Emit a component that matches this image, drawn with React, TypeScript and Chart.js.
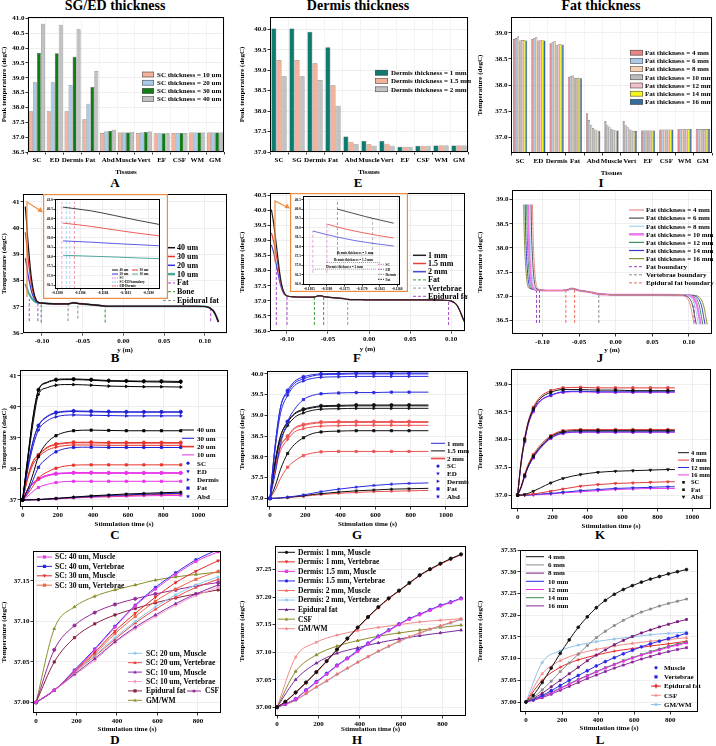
import React, { useEffect, useRef } from "react";
import { Chart, registerables } from "chart.js";

Chart.register(...registerables);

const SERIF = "'Liberation Serif', 'Times New Roman', serif";

/* ================= DATA ================= */
// ---- A: SG/ED thickness (peak temperature bars)
const tissuesA = ["SC", "ED", "Dermis", "Fat", "Abd", "Muscle", "Vert", "EF", "CSF", "WM", "GM"];
const namesA = ["SC thickness = 10 um", "SC thickness = 20 um", "SC thickness = 30 um", "SC thickness = 40 um"];
const peakSC10 = [37.87, 37.87, 37.87, 37.6, 37.14, 37.16, 37.14, 37.13, 37.14, 37.16, 37.16];
const peakSC20 = [38.85, 38.85, 38.76, 38.13, 37.19, 37.16, 37.16, 37.13, 37.14, 37.16, 37.16];
const peakSC30 = [39.84, 39.83, 39.71, 38.69, 37.21, 37.16, 37.17, 37.13, 37.14, 37.16, 37.16];
const peakSC40 = [40.82, 40.79, 40.64, 39.23, 37.25, 37.18, 37.19, 37.13, 37.14, 37.16, 37.16];
const yTicksA = [36.5, 37, 37.5, 38, 38.5, 39, 39.5, 40, 40.5, 41];

// ---- E: Dermis thickness
const tissuesE = ["SC", "SG", "Dermis", "Fat", "Abd", "Muscle", "Vert", "EF", "CSF", "WM", "GM"];
const namesE = ["Dermis thickness = 1 mm", "Dermis thickness = 1.5 mm", "Dermis thickness = 2 mm"];
const peakD1 = [40.02, 40.02, 39.94, 39.56, 37.38, 37.27, 37.27, 37.13, 37.15, 37.16, 37.16];
const peakD15 = [39.25, 39.25, 39.17, 38.63, 37.25, 37.19, 37.2, 37.13, 37.15, 37.16, 37.16];
const peakD2 = [38.85, 38.85, 38.76, 38.13, 37.19, 37.15, 37.15, 37.13, 37.15, 37.16, 37.16];
const yTicksE = [37, 37.5, 38, 38.5, 39, 39.5, 40];

// ---- I: Fat thickness
const tissuesI = ["SC", "ED", "Dermis", "Fat", "Abd", "Muscle", "Vert", "EF", "CSF", "WM", "GM"];
const namesI = ["Fat thickness = 4 mm", "Fat thickness = 6 mm", "Fat thickness = 8 mm", "Fat thickness = 10 mm", "Fat thickness = 12 mm", "Fat thickness = 14 mm", "Fat thickness = 16 mm"];
const peakF4 = [38.88, 38.88, 38.8, 38.16, 37.46, 37.31, 37.31, 37.13, 37.15, 37.16, 37.16];
const peakF6 = [38.9, 38.9, 38.82, 38.17, 37.33, 37.24, 37.23, 37.13, 37.15, 37.16, 37.16];
const peakF8 = [38.93, 38.92, 38.84, 38.18, 37.24, 37.2, 37.19, 37.13, 37.15, 37.16, 37.16];
const peakF10 = [38.85, 38.85, 38.77, 38.14, 37.18, 37.16, 37.15, 37.13, 37.15, 37.16, 37.16];
const peakF12 = [38.86, 38.86, 38.78, 38.14, 37.15, 37.14, 37.13, 37.13, 37.15, 37.16, 37.16];
const peakF14 = [38.86, 38.86, 38.78, 38.14, 37.13, 37.13, 37.12, 37.13, 37.15, 37.16, 37.16];
const peakF16 = [38.85, 38.85, 38.77, 38.13, 37.12, 37.13, 37.12, 37.13, 37.15, 37.16, 37.16];
const yTicksI = [37, 37.5, 38, 38.5, 39];

// ---- B: profile vs y, SC thickness
const posB = [-0.1205, -0.119, -0.117, -0.115, -0.113, -0.111, -0.109, -0.107, -0.105, -0.1, -0.09, -0.08, -0.07, -0.066, -0.062, -0.058, -0.054, -0.05, -0.04, -0.03, -0.024, -0.015, 0, 0.03, 0.06, 0.09, 0.1, 0.104, 0.107, 0.11, 0.112, 0.114, 0.1165];
const tailB = [37.12, 37.11, 37.11, 37.12, 37.15, 37.14, 37.12, 37.11, 37.08, 37.05, 37.03, 37.02, 37.02, 37.02, 37.02, 37.02, 37.01, 36.98, 36.93, 36.85, 36.75, 36.62, 36.42];
const headB40 = [40.82, 40.25, 39.4, 38.7, 38.1, 37.7, 37.42, 37.26, 37.18, 37.14];
const headB30 = [39.84, 39.42, 38.8, 38.3, 37.86, 37.56, 37.36, 37.23, 37.17, 37.14];
const headB20 = [38.85, 38.6, 38.2, 37.88, 37.6, 37.41, 37.28, 37.2, 37.16, 37.14];
const headB10 = [37.87, 37.75, 37.58, 37.45, 37.34, 37.26, 37.2, 37.17, 37.15, 37.14];
const fatLinesB = [[-0.1156, 36.45, 37.3], [-0.105, 36.45, 37.17], [0.107, 36.45, 36.95]];
const boneLinesB = [[-0.101, 36.4, 37.14], [-0.0225, 36.4, 37.04]];
const epiLinesB = [[-0.068, 36.45, 37.11], [-0.056, 36.55, 37.14]];
// inset B
const posIB = [-0.11875, -0.1185, -0.1183, -0.1181, -0.1179];
const insB40 = [40.62, 40.42, 40.18, 39.93, 39.7];
const insB30 = [39.78, 39.6, 39.42, 39.25, 39.1];
const insB20 = [38.84, 38.77, 38.7, 38.64, 38.58];
const insB10 = [38.08, 38.03, 37.99, 37.94, 37.9];

// ---- F: profile vs y, Dermis thickness
const posF = [-0.119, -0.117, -0.115, -0.113, -0.111, -0.109, -0.107, -0.105, -0.103, -0.1, -0.09, -0.08, -0.07, -0.066, -0.062, -0.058, -0.055, -0.05, -0.04, -0.03, -0.026, -0.015, 0, 0.03, 0.06, 0.08, 0.09, 0.096, 0.1, 0.104, 0.108, 0.111, 0.114, 0.1165];
const tailF = [37.13, 37.12, 37.12, 37.13, 37.16, 37.16, 37.14, 37.12, 37.1, 37.07, 37.05, 37.04, 37.03, 37.03, 37.03, 37.03, 37.02, 37.01, 36.99, 36.94, 36.82, 36.65, 36.45, 36.3];
const headF1 = [40.02, 39.7, 39.3, 38.85, 38.4, 37.95, 37.6, 37.38, 37.25, 37.16];
const headF15 = [39.25, 39.05, 38.8, 38.5, 38.2, 37.85, 37.55, 37.35, 37.23, 37.16];
const headF2 = [38.85, 38.68, 38.45, 38.2, 37.92, 37.65, 37.45, 37.3, 37.21, 37.16];
const fatLinesF = [[-0.0666, 36.2, 37.13], [-0.0553, 36.2, 37.14]];
const vertLinesF = [[-0.026, 36.2, 37.05]];
const epiLinesF = [[-0.113, 36.2, 38.2], [-0.1, 36.2, 37.16], [0.097, 36.2, 37.0]];
// inset F
const insF1x = [-0.1177, -0.1173, -0.1169, -0.1165, -0.1161];
const insF1 = [40.0, 39.8, 39.6, 39.42, 39.25];
const insF15x = [-0.118, -0.1175, -0.117, -0.1165, -0.1161];
const insF15 = [39.2, 38.95, 38.75, 38.58, 38.46];
const insF2x = [-0.1184, -0.1178, -0.1172, -0.1166, -0.1161];
const insF2 = [38.83, 38.55, 38.32, 38.15, 38.03];

// ---- J: profile vs y, Fat thickness
const leftYJ = [38.9, 38.45, 37.95, 37.55, 37.3, 37.17];
const midXJ = [-0.104, -0.095, -0.085, -0.072, -0.064, -0.06, -0.056, -0.05, -0.04, -0.03, -0.024, -0.015, 0, 0.06];
const midYJ = [37.13, 37.12, 37.12, 37.12, 37.14, 37.16, 37.15, 37.12, 37.1, 37.07, 37.05, 37.04, 37.03, 37.03];
const rightYJ = [37.02, 36.98, 36.9, 36.75, 36.58, 36.42];
const leftXJ4 = [-0.1135, -0.113, -0.112, -0.1105, -0.109, -0.1065];
const leftXJ6 = [-0.1155, -0.115, -0.114, -0.1125, -0.111, -0.1085];
const leftXJ8 = [-0.1175, -0.117, -0.116, -0.1145, -0.113, -0.1105];
const leftXJ10 = [-0.1195, -0.119, -0.118, -0.1165, -0.115, -0.1125];
const leftXJ12 = [-0.1215, -0.121, -0.12, -0.1185, -0.117, -0.1145];
const leftXJ14 = [-0.1235, -0.123, -0.122, -0.1205, -0.119, -0.1165];
const leftXJ16 = [-0.1255, -0.125, -0.124, -0.1225, -0.121, -0.1185];
const rightXJ4 = [0.09, 0.096, 0.1, 0.103, 0.105, 0.107];
const rightXJ6 = [0.093, 0.099, 0.103, 0.106, 0.108, 0.11];
const rightXJ8 = [0.096, 0.102, 0.106, 0.109, 0.111, 0.113];
const rightXJ10 = [0.099, 0.105, 0.109, 0.112, 0.114, 0.116];
const rightXJ12 = [0.102, 0.108, 0.112, 0.115, 0.117, 0.119];
const rightXJ14 = [0.105, 0.111, 0.115, 0.118, 0.12, 0.122];
const rightXJ16 = [0.108, 0.114, 0.118, 0.121, 0.123, 0.125];
const fatLinesJ = [[-0.108, 36.45, 37.13], [-0.104, 36.45, 37.13], [0.107, 36.45, 36.98]];
const vertLinesJ = [[-0.023, 36.45, 37.05]];
const epiLinesJ = [[-0.068, 36.45, 37.13], [-0.056, 36.45, 37.15]];

// ---- C: transient, SC thickness
const timeC = [0, 30, 60, 90, 140, 190, 240, 290, 390, 490, 590, 690, 790, 900];
const markC = [0, 90, 190, 290, 390, 490, 590, 690, 790, 900];
const c40SC = [37, 38.4, 39.7, 40.55, 40.8, 40.88, 40.9, 40.9, 40.88, 40.85, 40.84, 40.83, 40.83, 40.82];
const c40ED = [37, 38.4, 39.7, 40.53, 40.78, 40.86, 40.88, 40.88, 40.86, 40.83, 40.82, 40.81, 40.8, 40.79];
const c40De = [37, 38.3, 39.5, 40.4, 40.62, 40.7, 40.72, 40.72, 40.7, 40.67, 40.66, 40.65, 40.65, 40.64];
const c40Fa = [37, 37.35, 37.85, 38.4, 38.85, 39.07, 39.18, 39.23, 39.25, 39.24, 39.23, 39.23, 39.23, 39.23];
const c40Ab = [37, 37.0, 37.005, 37.01, 37.03, 37.05, 37.07, 37.09, 37.13, 37.16, 37.19, 37.21, 37.23, 37.25];
const c30SC = [37, 38.1, 38.9, 39.4, 39.7, 39.82, 39.86, 39.87, 39.86, 39.85, 39.84, 39.84, 39.84, 39.84];
const c30ED = [37, 38.1, 38.9, 39.38, 39.68, 39.8, 39.84, 39.85, 39.84, 39.83, 39.83, 39.83, 39.83, 39.83];
const c30De = [37, 38.0, 38.75, 39.25, 39.55, 39.68, 39.73, 39.74, 39.73, 39.72, 39.71, 39.71, 39.71, 39.71];
const c30Fa = [37, 37.25, 37.65, 38.05, 38.35, 38.55, 38.65, 38.69, 38.7, 38.69, 38.69, 38.69, 38.69, 38.69];
const c30Ab = [37, 37.0, 37.004, 37.01, 37.025, 37.04, 37.06, 37.08, 37.11, 37.14, 37.16, 37.18, 37.2, 37.21];
const c20SC = [37, 37.75, 38.25, 38.45, 38.7, 38.8, 38.84, 38.86, 38.86, 38.85, 38.85, 38.85, 38.85, 38.85];
const c20ED = [37, 37.75, 38.25, 38.44, 38.68, 38.78, 38.82, 38.84, 38.84, 38.83, 38.83, 38.83, 38.83, 38.83];
const c20De = [37, 37.7, 38.15, 38.38, 38.6, 38.7, 38.75, 38.77, 38.77, 38.76, 38.76, 38.76, 38.76, 38.76];
const c20Fa = [37, 37.2, 37.45, 37.7, 37.9, 38.02, 38.09, 38.12, 38.13, 38.13, 38.13, 38.13, 38.13, 38.13];
const c20Ab = [37, 37.0, 37.003, 37.008, 37.02, 37.035, 37.05, 37.07, 37.1, 37.12, 37.14, 37.16, 37.18, 37.19];
const c10SC = [37, 37.35, 37.55, 37.68, 37.8, 37.85, 37.87, 37.88, 37.88, 37.87, 37.87, 37.87, 37.87, 37.87];
const c10ED = [37, 37.35, 37.55, 37.67, 37.79, 37.84, 37.86, 37.87, 37.87, 37.87, 37.87, 37.87, 37.87, 37.87];
const c10De = [37, 37.33, 37.52, 37.65, 37.77, 37.83, 37.85, 37.86, 37.86, 37.86, 37.86, 37.86, 37.86, 37.86];
const c10Fa = [37, 37.12, 37.28, 37.4, 37.5, 37.56, 37.59, 37.6, 37.6, 37.6, 37.6, 37.6, 37.6, 37.6];
const c10Ab = [37, 37.0, 37.002, 37.005, 37.015, 37.03, 37.045, 37.06, 37.085, 37.1, 37.115, 37.13, 37.14, 37.14];

// ---- G: transient, Dermis thickness
const timeG = [0, 30, 60, 100, 140, 190, 240, 290, 390, 490, 590, 690, 790, 900];
const markG = [0, 100, 190, 290, 390, 490, 590, 690, 790];
const g1SC = [37, 38.3, 39.2, 39.6, 39.82, 39.93, 39.98, 40.0, 40.01, 40.02, 40.02, 40.02, 40.02, 40.02];
const g1ED = [37, 38.3, 39.2, 39.55, 39.78, 39.88, 39.95, 39.98, 39.99, 40.0, 40.0, 40.0, 40.0, 40.0];
const g1De = [37, 38.2, 39.05, 39.48, 39.72, 39.83, 39.89, 39.92, 39.93, 39.94, 39.94, 39.94, 39.94, 39.94];
const g1Fa = [37, 37.6, 38.3, 38.85, 39.15, 39.38, 39.48, 39.52, 39.54, 39.55, 39.55, 39.56, 39.56, 39.56];
const g1Ab = [37, 37.0, 37.01, 37.03, 37.05, 37.08, 37.12, 37.16, 37.22, 37.27, 37.31, 37.34, 37.36, 37.37];
const g15SC = [37, 37.9, 38.5, 38.85, 39.05, 39.15, 39.2, 39.23, 39.24, 39.25, 39.25, 39.25, 39.25, 39.25];
const g15ED = [37, 37.9, 38.5, 38.83, 39.03, 39.13, 39.18, 39.21, 39.22, 39.23, 39.23, 39.23, 39.23, 39.23];
const g15De = [37, 37.85, 38.4, 38.75, 38.95, 39.06, 39.12, 39.15, 39.16, 39.17, 39.17, 39.17, 39.17, 39.17];
const g15Fa = [37, 37.3, 37.7, 38.08, 38.3, 38.46, 38.56, 38.6, 38.62, 38.63, 38.63, 38.63, 38.63, 38.63];
const g15Ab = [37, 37.0, 37.01, 37.02, 37.04, 37.06, 37.09, 37.11, 37.15, 37.18, 37.2, 37.22, 37.23, 37.24];
const g2SC = [37, 37.75, 38.25, 38.5, 38.7, 38.78, 38.82, 38.84, 38.85, 38.85, 38.85, 38.85, 38.85, 38.85];
const g2ED = [37, 37.75, 38.25, 38.48, 38.68, 38.76, 38.8, 38.82, 38.83, 38.83, 38.83, 38.83, 38.83, 38.83];
const g2De = [37, 37.7, 38.15, 38.42, 38.6, 38.68, 38.72, 38.74, 38.75, 38.76, 38.76, 38.76, 38.76, 38.76];
const g2Fa = [37, 37.2, 37.48, 37.75, 37.9, 38.03, 38.09, 38.12, 38.13, 38.13, 38.13, 38.13, 38.13, 38.13];
const g2Ab = [37, 37.0, 37.005, 37.015, 37.03, 37.05, 37.07, 37.09, 37.12, 37.14, 37.16, 37.17, 37.18, 37.19];

// ---- K: transient, Fat thickness
const timeK = [0, 20, 40, 60, 90, 130, 190, 260, 360, 460, 560, 660, 760, 860, 900];
const markK = [0, 40, 90, 190, 260, 360, 460, 560, 660, 760, 860];
const k4SC = [37, 37.6, 38.0, 38.3, 38.55, 38.74, 38.85, 38.9, 38.9, 38.89, 38.89, 38.88, 38.88, 38.88, 38.88];
const k8SC = [37, 37.62, 38.02, 38.32, 38.58, 38.77, 38.88, 38.93, 38.94, 38.93, 38.93, 38.93, 38.93, 38.93, 38.93];
const k12SC = [37, 37.58, 37.97, 38.27, 38.52, 38.7, 38.8, 38.86, 38.87, 38.86, 38.86, 38.86, 38.86, 38.86, 38.86];
const k16SC = [37, 37.57, 37.96, 38.26, 38.5, 38.69, 38.79, 38.85, 38.86, 38.85, 38.85, 38.85, 38.85, 38.85, 38.85];
const k4Fa = [37, 37.15, 37.35, 37.52, 37.7, 37.87, 38.05, 38.14, 38.16, 38.16, 38.16, 38.16, 38.16, 38.16, 38.16];
const k8Fa = [37, 37.16, 37.37, 37.55, 37.73, 37.9, 38.07, 38.16, 38.18, 38.18, 38.18, 38.18, 38.18, 38.18, 38.18];
const k12Fa = [37, 37.14, 37.34, 37.5, 37.68, 37.85, 38.03, 38.12, 38.14, 38.14, 38.14, 38.14, 38.14, 38.14, 38.14];
const k16Fa = [37, 37.13, 37.33, 37.5, 37.67, 37.84, 38.02, 38.11, 38.13, 38.13, 38.13, 38.13, 38.13, 38.13, 38.13];
const k4Ab = [37, 37.0, 37.01, 37.03, 37.07, 37.13, 37.22, 37.3, 37.37, 37.41, 37.43, 37.44, 37.45, 37.46, 37.46];
const k8Ab = [37, 37.0, 37.0, 37.01, 37.02, 37.04, 37.07, 37.11, 37.16, 37.19, 37.21, 37.22, 37.23, 37.24, 37.24];
const k12Ab = [37, 37.0, 37.0, 37.0, 37.01, 37.02, 37.03, 37.05, 37.08, 37.1, 37.12, 37.13, 37.14, 37.15, 37.15];
const k16Ab = [37, 37.0, 37.0, 37.0, 37.005, 37.01, 37.02, 37.04, 37.06, 37.08, 37.1, 37.11, 37.12, 37.12, 37.12];

// ---- D: deep tissues, SC thickness
const timeD = [0, 90, 190, 290, 390, 490, 590, 690, 790, 900];
const d40M = [37, 37.015, 37.039, 37.065, 37.093, 37.119, 37.14, 37.158, 37.174, 37.186];
const d40V = [37, 37.015, 37.04, 37.066, 37.094, 37.12, 37.142, 37.16, 37.176, 37.189];
const d30M = [37, 37.015, 37.039, 37.062, 37.088, 37.11, 37.13, 37.148, 37.162, 37.175];
const d30V = [37, 37.015, 37.038, 37.06, 37.085, 37.106, 37.125, 37.14, 37.152, 37.162];
const d20M = [37, 37.015, 37.037, 37.058, 37.08, 37.1, 37.118, 37.133, 37.145, 37.155];
const d20V = [37, 37.015, 37.037, 37.057, 37.078, 37.098, 37.115, 37.13, 37.142, 37.152];
const d10M = [37, 37.015, 37.035, 37.054, 37.075, 37.093, 37.108, 37.122, 37.134, 37.145];
const d10V = [37, 37.015, 37.034, 37.052, 37.074, 37.091, 37.106, 37.12, 37.132, 37.142];
const dEpi = [37, 37.05, 37.08, 37.097, 37.108, 37.116, 37.123, 37.129, 37.134, 37.139];
const dCSF = [37, 37.065, 37.095, 37.111, 37.121, 37.128, 37.134, 37.139, 37.144, 37.148];
const dGMWM = [37, 37.091, 37.118, 37.131, 37.139, 37.145, 37.151, 37.155, 37.158, 37.161];

// ---- H: deep tissues, Dermis thickness
const timeH = [0, 40, 90, 140, 190, 240, 290, 340, 390, 440, 490, 540, 590, 640, 690, 740, 790, 840, 890];
const timeH2 = [0, 90, 190, 290, 390, 490, 590, 690, 790, 890];
const h1M = [37, 37.01, 37.027, 37.045, 37.064, 37.084, 37.105, 37.125, 37.145, 37.164, 37.182, 37.198, 37.212, 37.226, 37.24, 37.251, 37.261, 37.27, 37.278];
const h1V = [37, 37.01, 37.026, 37.044, 37.063, 37.083, 37.104, 37.124, 37.144, 37.163, 37.181, 37.197, 37.211, 37.225, 37.239, 37.25, 37.26, 37.269, 37.277];
const h15M = [37, 37.006, 37.015, 37.03, 37.045, 37.06, 37.075, 37.088, 37.101, 37.115, 37.128, 37.139, 37.15, 37.16, 37.168, 37.176, 37.184, 37.19, 37.197];
const h15V = [37, 37.006, 37.015, 37.031, 37.046, 37.061, 37.076, 37.089, 37.103, 37.116, 37.129, 37.14, 37.151, 37.161, 37.169, 37.177, 37.185, 37.191, 37.198];
const h2M = [37, 37.005, 37.013, 37.025, 37.037, 37.048, 37.06, 37.071, 37.082, 37.092, 37.102, 37.111, 37.12, 37.128, 37.135, 37.142, 37.148, 37.154, 37.16];
const h2V = [37, 37.005, 37.012, 37.024, 37.036, 37.047, 37.059, 37.07, 37.081, 37.091, 37.101, 37.11, 37.119, 37.127, 37.134, 37.141, 37.147, 37.153, 37.159];
const hEpi = [37, 37.05, 37.08, 37.098, 37.108, 37.117, 37.124, 37.13, 37.135, 37.14];
const hCSF = [37, 37.065, 37.095, 37.111, 37.121, 37.129, 37.135, 37.14, 37.145, 37.149];
const hGMWM = [37, 37.091, 37.118, 37.131, 37.139, 37.145, 37.15, 37.155, 37.158, 37.161];

// ---- L: deep tissues, Fat thickness
const timeL = [0, 40, 90, 140, 190, 240, 290, 340, 390, 440, 490, 540, 590, 640, 690, 740, 790, 840, 890];
const timeL2 = [0, 90, 190, 290, 390, 490, 590, 690, 790, 890];
const l4 = [37, 37.015, 37.045, 37.078, 37.112, 37.143, 37.172, 37.196, 37.217, 37.234, 37.248, 37.259, 37.268, 37.276, 37.283, 37.289, 37.295, 37.3, 37.305];
const l6 = [37, 37.01, 37.028, 37.048, 37.07, 37.09, 37.11, 37.13, 37.148, 37.163, 37.176, 37.188, 37.198, 37.207, 37.214, 37.221, 37.227, 37.232, 37.237];
const l8 = [37, 37.008, 37.02, 37.035, 37.05, 37.065, 37.08, 37.095, 37.108, 37.12, 37.132, 37.142, 37.151, 37.159, 37.166, 37.173, 37.179, 37.185, 37.19];
const l10 = [37, 37.006, 37.015, 37.026, 37.038, 37.05, 37.061, 37.072, 37.083, 37.093, 37.102, 37.111, 37.119, 37.127, 37.134, 37.14, 37.146, 37.152, 37.158];
const l12 = [37, 37.005, 37.012, 37.021, 37.031, 37.041, 37.051, 37.06, 37.069, 37.078, 37.086, 37.094, 37.101, 37.108, 37.114, 37.12, 37.126, 37.131, 37.136];
const l14 = [37, 37.005, 37.013, 37.022, 37.032, 37.042, 37.052, 37.061, 37.07, 37.079, 37.087, 37.095, 37.102, 37.109, 37.116, 37.122, 37.128, 37.133, 37.138];
const l16 = [37, 37.004, 37.01, 37.018, 37.027, 37.036, 37.045, 37.054, 37.062, 37.07, 37.078, 37.085, 37.092, 37.099, 37.105, 37.111, 37.116, 37.121, 37.125];
const lEpi = [37, 37.05, 37.08, 37.097, 37.108, 37.117, 37.123, 37.129, 37.134, 37.14];
const lCSF = [37, 37.065, 37.095, 37.111, 37.121, 37.129, 37.135, 37.14, 37.144, 37.148];
const lGMWM = [37, 37.091, 37.118, 37.131, 37.139, 37.145, 37.15, 37.155, 37.158, 37.161];

const ticksTime = [0, 200, 400, 600, 800, 1000];
const ticksTime8 = [0, 200, 400, 600, 800];
const ticksPos = [-0.1, -0.05, 0, 0.05, 0.1];

/* ================= HELPERS ================= */
const MK: any = {
  circle: ["circle", 0], rect: ["rect", 0], tri: ["triangle", 0], triDown: ["triangle", 180],
  triRight: ["triangle", 90], diamond: ["rectRot", 0], star: ["star", 0], cross: ["cross", 0],
};

function drawMark(ctx: any, kind: string, x: number, y: number, r: number, color: string) {
  ctx.save();
  ctx.fillStyle = color;
  ctx.strokeStyle = color;
  ctx.lineWidth = 1;
  ctx.beginPath();
  if (kind === "circle") { ctx.arc(x, y, r, 0, Math.PI * 2); ctx.fill(); }
  else if (kind === "rect") { ctx.fillRect(x - r, y - r, 2 * r, 2 * r); }
  else if (kind === "diamond") { ctx.moveTo(x, y - r * 1.3); ctx.lineTo(x + r * 1.3, y); ctx.lineTo(x, y + r * 1.3); ctx.lineTo(x - r * 1.3, y); ctx.closePath(); ctx.fill(); }
  else if (kind === "tri") { ctx.moveTo(x, y - r * 1.2); ctx.lineTo(x + r * 1.1, y + r * 0.8); ctx.lineTo(x - r * 1.1, y + r * 0.8); ctx.closePath(); ctx.fill(); }
  else if (kind === "triDown") { ctx.moveTo(x, y + r * 1.2); ctx.lineTo(x + r * 1.1, y - r * 0.8); ctx.lineTo(x - r * 1.1, y - r * 0.8); ctx.closePath(); ctx.fill(); }
  else if (kind === "triRight") { ctx.moveTo(x + r * 1.2, y); ctx.lineTo(x - r * 0.8, y - r * 1.1); ctx.lineTo(x - r * 0.8, y + r * 1.1); ctx.closePath(); ctx.fill(); }
  else if (kind === "star") {
    for (let k = 0; k < 10; k++) {
      const a = -Math.PI / 2 + (k * Math.PI) / 5;
      const rr = k % 2 === 0 ? r * 1.4 : r * 0.6;
      const px = x + rr * Math.cos(a), py = y + rr * Math.sin(a);
      if (k === 0) ctx.moveTo(px, py); else ctx.lineTo(px, py);
    }
    ctx.closePath(); ctx.fill();
  } else if (kind === "cross") { ctx.lineWidth = 1.3; ctx.moveTo(x - r * 1.4, y); ctx.lineTo(x + r * 1.4, y); ctx.moveTo(x, y - r * 1.4); ctx.lineTo(x, y + r * 1.4); ctx.stroke(); }
  ctx.restore();
}

function legendPlugin(spec: any, off: any) {
  return {
    id: "customLegend",
    afterDraw(chart: any) {
      const ctx = chart.ctx;
      ctx.save();
      ctx.font = `bold ${spec.size}px ${SERIF}`;
      ctx.textBaseline = "middle";
      ctx.textAlign = "left";
      spec.items.forEach((it: any, i: number) => {
        const px = (it.x ?? spec.x) - off.left;
        const py = (it.y ?? spec.y + i * spec.lh) - off.top;
        const sw = it.sw ?? spec.sw;
        if (it.kind === "box") {
          const bh = spec.bh ?? 5;
          ctx.fillStyle = it.color;
          ctx.fillRect(px, py - bh / 2, sw, bh);
          ctx.strokeStyle = "#555";
          ctx.lineWidth = 0.6;
          ctx.strokeRect(px + 0.3, py - bh / 2 + 0.3, sw - 0.6, bh - 0.6);
        } else if (it.kind === "line") {
          ctx.save();
          ctx.strokeStyle = it.color;
          ctx.lineWidth = it.lw ?? 1;
          ctx.setLineDash(it.dash ?? []);
          ctx.beginPath();
          ctx.moveTo(px, py);
          ctx.lineTo(px + sw, py);
          ctx.stroke();
          ctx.restore();
          if (it.marker) drawMark(ctx, it.marker, px + sw / 2, py, it.r ?? 1.6, it.mcolor ?? it.color);
        } else if (it.kind === "marker") {
          drawMark(ctx, it.marker, px + sw / 2, py, it.r ?? 1.6, it.color);
        }
        ctx.fillStyle = "#000";
        ctx.fillText(it.text, px + sw + (spec.gap ?? 2), py + 0.5);
      });
      ctx.restore();
    },
  };
}

const framePlugin = {
  id: "frame",
  afterDatasetsDraw(chart: any) {
    const { left, top, right, bottom } = chart.chartArea;
    const ctx = chart.ctx;
    ctx.save();
    ctx.strokeStyle = "#000";
    ctx.lineWidth = 1;
    ctx.strokeRect(Math.round(left) + 0.5, Math.round(top) + 0.5, Math.round(right - left) - 1, Math.round(bottom - top) - 1);
    ctx.restore();
  },
};

function extraPlugin(fn: (ctx: any, chart: any) => void) {
  return { id: "extraDraw", afterDraw(chart: any) { const ctx = chart.ctx; ctx.save(); fn(ctx, chart); ctx.restore(); } };
}

const font = (s: number) => ({ family: SERIF, size: s, weight: "bold" as const });

function killPad(s: any) { s.paddingLeft = 0; s.paddingRight = 0; s.paddingTop = 0; s.paddingBottom = 0; }

function yLin(off: any, min: number, max: number, ticks: number[], dec: number, title: string, o: any = {}) {
  return {
    type: "linear", position: "left", min, max,
    afterBuildTicks: (s: any) => { s.ticks = ticks.map((v) => ({ value: v })); },
    afterFit: (s: any) => { s.width = off.yw; killPad(s); },
    grid: { color: o.gc ?? "#e3e3e3", lineWidth: 0.6, tickColor: "#000", tickLength: o.tl ?? 2.5, tickWidth: 0.8, drawOnChartArea: o.grid !== false },
    border: { display: false },
    ticks: { color: "#000", padding: o.pad ?? 1, autoSkip: false, font: font(o.fs ?? 7), callback: (v: any) => Number(v).toFixed(dec) },
    title: { display: !!title, text: title, color: "#000", padding: { top: 0, bottom: 0 }, font: font(o.tfs ?? 7) },
  };
}

function xLin(off: any, min: number, max: number, ticks: number[], dec: number, title: string, o: any = {}) {
  return {
    type: "linear", position: "bottom", min, max,
    afterBuildTicks: (s: any) => { s.ticks = ticks.map((v) => ({ value: v })); },
    afterFit: (s: any) => { s.height = off.xh; killPad(s); },
    grid: { color: o.gc ?? "#e3e3e3", lineWidth: 0.6, tickColor: "#000", tickLength: o.tl ?? 2.5, tickWidth: 0.8, drawOnChartArea: o.grid !== false },
    border: { display: false },
    ticks: { color: "#000", padding: o.pad ?? 1, autoSkip: false, maxRotation: 0, minRotation: 0, font: font(o.fs ?? 7), callback: (v: any) => Number(v).toFixed(dec) },
    title: { display: !!title, text: title, color: "#000", padding: { top: 0, bottom: 0 }, font: font(o.tfs ?? 7) },
  };
}

function xCat(off: any, title: string) {
  return {
    type: "category", position: "bottom", offset: true,
    afterFit: (s: any) => { s.height = off.xh; killPad(s); },
    grid: { offset: true, color: "#ececec", lineWidth: 0.6, tickColor: "#000", tickLength: 2.5, tickWidth: 0.8 },
    border: { display: false },
    ticks: { color: "#000", padding: 1, autoSkip: false, maxRotation: 0, minRotation: 0, font: font(7) },
    title: { display: true, text: title, color: "#000", padding: { top: 0, bottom: 0 }, font: font(7) },
  };
}

function baseOpts(off: any, scales: any) {
  return {
    responsive: false, maintainAspectRatio: false, animation: false, devicePixelRatio: 1, events: [],
    layout: { padding: { left: 0, right: off.rp, top: off.tp, bottom: 0 } },
    plugins: { legend: { display: false }, tooltip: { enabled: false }, title: { display: false } },
    scales,
  };
}

function pts(xs: number[], ys: number[]) { return xs.map((x, i) => ({ x, y: ys[i] })); }

function lineDS(xs: number[], ys: number[], color: string, o: any = {}) {
  const ms = new Set(o.marks ?? []);
  const m = MK[o.marker ?? "circle"];
  return {
    data: pts(xs, ys), borderColor: color, backgroundColor: color, borderWidth: o.lw ?? 1,
    pointRadius: (c: any) => (ms.has(c.raw?.x) ? o.r ?? 1.7 : 0),
    pointStyle: m[0], pointRotation: m[1], pointBorderWidth: 0.8,
    cubicInterpolationMode: "monotone", fill: false, borderDash: o.dash ?? [], order: o.order ?? 0,
  };
}

function vLines(list: number[][], color: string, lw = 1) {
  return list.map((l) => ({
    data: [{ x: l[0], y: l[1] }, { x: l[0], y: l[2] }], borderColor: color, borderWidth: lw,
    borderDash: [3, 2], pointRadius: 0, tension: 0, fill: false,
  }));
}

function Panel({ frame, yw, xh, tp = 6, rp = 3, make, bg }: any) {
  const ref = useRef<HTMLCanvasElement | null>(null);
  const [x1, y1, x2, y2] = frame;
  const left = x1 - yw;
  const top = y1 - tp;
  const W = x2 - x1 + yw + rp;
  const H = y2 - y1 + tp + xh;
  useEffect(() => {
    const off = { left, top, yw, xh, tp, rp };
    const chart = new Chart(ref.current as HTMLCanvasElement, make(off));
    return () => chart.destroy();
  }, []);
  return <canvas ref={ref} width={W} height={H} style={{ position: "absolute", left, top, width: W, height: H, background: bg }} />;
}

/* ================= PANEL BUILDERS ================= */
function makeBar(off: any, labels: string[], names: string[], series: number[][], colors: string[], min: number, max: number, ticks: number[], yTitle: string, leg: any, cat: number, bar: number) {
  return {
    type: "bar",
    data: {
      labels,
      datasets: series.map((d, i) => ({ label: names[i], data: d, backgroundColor: colors[i], borderColor: "#4a4a4a", borderWidth: 0.5, categoryPercentage: cat, barPercentage: bar })),
    },
    options: baseOpts(off, { x: xCat(off, "Tissues"), y: yLin(off, min, max, ticks, 1, yTitle) }),
    plugins: [framePlugin, legendPlugin({ ...leg, items: names.map((n, i) => ({ text: n, color: colors[i], kind: "box" })) }, off)],
  };
}

const colA = ["#f3b299", "#a8cbea", "#0f7d14", "#c2c2c2"];
const colE = ["#0f7a6e", "#f3b299", "#c2c2c2"];
const colI = ["#e98585", "#a9cbe9", "#f8cfb0", "#bdbdbd", "#f3bfca", "#f6f61a", "#356e9d"];

const makeA = (off: any) => makeBar(off, tissuesA, namesA, [peakSC10, peakSC20, peakSC30, peakSC40], colA, 36.5, 41.05, yTicksA, "Peak temperature (degC)", { x: 142, y: 74.5, lh: 8.2, size: 7, sw: 12, gap: 3, bh: 5.5 }, 0.9, 0.97);
const makeE = (off: any) => makeBar(off, tissuesE, namesE, [peakD1, peakD15, peakD2], colE, 37.0, 40.3, yTicksE, "Peak temperature (degC)", { x: 375, y: 72.7, lh: 8.3, size: 7, sw: 13, gap: 3, bh: 5.5 }, 0.85, 0.97);
const makeI = (off: any) => makeBar(off, tissuesI, namesI, [peakF4, peakF6, peakF8, peakF10, peakF12, peakF14, peakF16], colI, 36.7, 39.3, yTicksI, "Temperature (degC)", { x: 630, y: 52.7, lh: 8.2, size: 7, sw: 13, gap: 2, bh: 5.5 }, 0.78, 1.0);

// B
const cB = { b40: "#111111", b30: "#e8352d", b20: "#3333d6", b10: "#4ea89e", fat: "#b343cc", bone: "#2f8f2f", epi: "#8c8c8c", orange: "#f08a3c" };
function makeB(off: any) {
  const ds = [
    lineDS(posB, headB40.concat(tailB), cB.b40, { lw: 1.2 }),
    lineDS(posB, headB30.concat(tailB), cB.b30, { lw: 1.2 }),
    lineDS(posB, headB20.concat(tailB), cB.b20, { lw: 1.2 }),
    lineDS(posB, headB10.concat(tailB), cB.b10, { lw: 2 }),
    ...vLines(fatLinesB, cB.fat), ...vLines(boneLinesB, cB.bone), ...vLines(epiLinesB, cB.epi),
  ];
  return {
    type: "line", data: { datasets: ds },
    options: baseOpts(off, { x: xLin(off, -0.1233, 0.127, ticksPos, 2, "y (m)"), y: yLin(off, 36, 41.3, [36, 37, 38, 39, 40, 41], 0, "Temperature (degC)") }),
    plugins: [framePlugin, legendPlugin({ x: 163, y: 247.7, lh: 8.8, size: 8, sw: 12, gap: 2, items: [
      { text: "40 um", color: cB.b40, kind: "line", lw: 1.5 }, { text: "30 um", color: cB.b30, kind: "line", lw: 1.5 },
      { text: "20 um", color: cB.b20, kind: "line", lw: 1.5 }, { text: "10 um", color: cB.b10, kind: "line", lw: 2.5 },
      { text: "Fat", color: cB.fat, kind: "line", dash: [3, 2] }, { text: "Bone", color: cB.bone, kind: "line", dash: [3, 2] },
      { text: "Epidural fat", color: cB.epi, kind: "line", dash: [3, 2] },
    ] }, off), extraPlugin((ctx) => {
      ctx.strokeStyle = cB.orange; ctx.fillStyle = cB.orange; ctx.lineWidth = 1.2;
      ctx.beginPath(); ctx.moveTo(27 - off.left, 297 - off.top); ctx.lineTo(27 - off.left, 202 - off.top); ctx.lineTo(41 - off.left, 211 - off.top); ctx.stroke();
      ctx.beginPath(); ctx.moveTo(43 - off.left, 212.5 - off.top); ctx.lineTo(37.5 - off.left, 211.5 - off.top); ctx.lineTo(40.5 - off.left, 207 - off.top); ctx.closePath(); ctx.fill();
    })],
  };
}

function makeInsetB(off: any) {
  const ds = [
    lineDS(posIB, insB40, cB.b40, { lw: 0.8 }), lineDS(posIB, insB30, cB.b30, { lw: 0.8 }),
    lineDS(posIB, insB20, cB.b20, { lw: 0.8 }), lineDS(posIB, insB10, cB.b10, { lw: 1 }),
    ...vLines([[-0.11876, 36.3, 40.9]], "#ee66cc", 0.6), ...vLines([[-0.11872, 36.3, 40.9], [-0.11869, 36.3, 40.9]], "#77bbee", 0.6),
    ...vLines([[-0.11865, 36.3, 40.9]], "#e8506a", 0.6),
  ];
  const small = { fs: 3.6, tl: 1.5, pad: 0.5 };
  return {
    type: "line", data: { datasets: ds },
    options: baseOpts(off, {
      x: xLin(off, -0.11882, -0.1179, [-0.1188, -0.1186, -0.1184, -0.1182, -0.118], 4, "", small),
      y: yLin(off, 36.3, 41.05, [36.5, 37, 37.5, 38, 38.5, 39, 39.5, 40, 40.5, 41], 1, "", small),
    }),
    plugins: [framePlugin, legendPlugin({ x: 112, y: 270, lh: 4, size: 3.4, sw: 6, gap: 1.5, items: [
      { text: "40 um", color: cB.b40, kind: "line" }, { text: "20 um", color: cB.b20, kind: "line" },
      { text: "SC", color: "#ee66cc", kind: "line", dash: [1.5, 1] }, { text: "SC-ED boundary", color: "#77bbee", kind: "line", dash: [1.5, 1] },
      { text: "ED-Dermis", color: "#e8506a", kind: "line", dash: [1.5, 1] },
      { text: "30 um", color: cB.b30, kind: "line", x: 132, y: 270 }, { text: "10 um", color: cB.b10, kind: "line", x: 132, y: 274 },
    ] }, off), extraPlugin((ctx, chart) => {
      ctx.strokeStyle = cB.orange; ctx.lineWidth = 1.2;
      ctx.strokeRect(0.6, 0.6, chart.width - 1.2, chart.height - 1.2);
    })],
  };
}

// F
const cF = { f1: "#222222", f15: "#e8403a", f2: "#4b4bd8", fat: "#3c9c3c", vert: "#9a9a9a", epi: "#a646c6", orange: "#f08a3c" };
function makeF(off: any) {
  const ds = [
    lineDS(posF, headF1.concat(tailF), cF.f1, { lw: 1.2 }),
    lineDS(posF, headF15.concat(tailF), cF.f15, { lw: 1.2 }),
    lineDS(posF, headF2.concat(tailF), cF.f2, { lw: 1.2 }),
    ...vLines(fatLinesF, cF.fat), ...vLines(vertLinesF, cF.vert), ...vLines(epiLinesF, cF.epi),
  ];
  return {
    type: "line", data: { datasets: ds },
    options: baseOpts(off, { x: xLin(off, -0.1207, 0.117, ticksPos, 2, "y (m)"), y: yLin(off, 36, 40.57, [36, 36.5, 37, 37.5, 38, 38.5, 39, 39.5, 40, 40.5], 1, "Temperature (degC)") }),
    plugins: [framePlugin, legendPlugin({ x: 413, y: 255.3, lh: 8.2, size: 8, sw: 13, gap: 2, items: [
      { text: "1 mm", color: cF.f1, kind: "line", lw: 1.5 }, { text: "1.5 mm", color: cF.f15, kind: "line", lw: 1.5 },
      { text: "2 mm", color: cF.f2, kind: "line", lw: 1.5 }, { text: "Fat", color: cF.fat, kind: "line", dash: [3, 2] },
      { text: "Vertebrae", color: cF.vert, kind: "line", dash: [3, 2] }, { text: "Epidural fat", color: cF.epi, kind: "line", dash: [3, 2] },
    ] }, off), extraPlugin((ctx) => {
      ctx.strokeStyle = cF.orange; ctx.fillStyle = cF.orange; ctx.lineWidth = 1.2;
      ctx.beginPath(); ctx.moveTo(275 - off.left, 262 - off.top); ctx.lineTo(275 - off.left, 201 - off.top); ctx.lineTo(287 - off.left, 207 - off.top); ctx.stroke();
      ctx.beginPath(); ctx.moveTo(290 - off.left, 208.5 - off.top); ctx.lineTo(284.5 - off.left, 208 - off.top); ctx.lineTo(287 - off.left, 203.5 - off.top); ctx.closePath(); ctx.fill();
    })],
  };
}

function makeInsetF(off: any) {
  const ds = [
    lineDS(insF1x, insF1, cF.f1, { lw: 0.8 }), lineDS(insF15x, insF15, cF.f15, { lw: 0.8 }), lineDS(insF2x, insF2, cF.f2, { lw: 0.8 }),
    ...vLines([[-0.1184, 36.6, 38.83], [-0.118, 36.6, 39.2]], "#ee66cc", 0.6),
    ...vLines([[-0.1177, 37.55, 40.5]], "#a040c0", 0.6),
    ...vLines([[-0.1167, 37.55, 39.5]], "#888888", 0.6),
  ];
  const small = { fs: 3.6, tl: 1.5, pad: 0.5 };
  return {
    type: "line", data: { datasets: ds },
    options: baseOpts(off, {
      x: xLin(off, -0.11868, -0.11592, [-0.1185, -0.118, -0.1175, -0.117, -0.1165, -0.116], 4, "", small),
      y: yLin(off, 35.95, 40.7, [36, 36.5, 37, 37.5, 38, 38.5, 39, 39.5, 40, 40.5], 1, "", small),
    }),
    plugins: [framePlugin, legendPlugin({ x: 378, y: 264.3, lh: 5, size: 3.4, sw: 6, gap: 1.5, items: [
      { text: "SC", color: "#ee66cc", kind: "line", dash: [1.5, 1] }, { text: "ED", color: "#a040c0", kind: "line", dash: [1.5, 1] },
      { text: "Dermis", color: "#888888", kind: "line", dash: [1.5, 1] }, { text: "Fat", color: "#222222", kind: "line", dash: [1.5, 1] },
    ] }, off), extraPlugin((ctx, chart) => {
      const X = (v: number) => chart.scales.x.getPixelForValue(v);
      const Y = (v: number) => chart.scales.y.getPixelForValue(v);
      ctx.strokeStyle = "#333"; ctx.lineWidth = 0.5; ctx.setLineDash([1, 1]);
      const rows = [[37.55, -0.1177, -0.1167, "Dermis thickness = 1 mm"], [37.15, -0.118, -0.1165, "Dermis thickness = 1.5 mm"], [36.8, -0.1184, -0.1166, "Dermis thickness = 2 mm"]];
      ctx.font = `bold 3.4px ${SERIF}`; ctx.fillStyle = "#000"; ctx.textAlign = "center"; ctx.textBaseline = "bottom";
      rows.forEach((r: any) => {
        ctx.beginPath(); ctx.moveTo(X(r[1]), Y(r[0])); ctx.lineTo(X(r[2]), Y(r[0])); ctx.stroke();
        ctx.fillText(r[3], (X(r[1]) + X(r[2])) / 2, Y(r[0]) - 0.5);
      });
      ctx.setLineDash([]);
      ctx.strokeStyle = cF.orange; ctx.lineWidth = 1.2;
      ctx.strokeRect(0.6, 0.6, chart.width - 1.2, chart.height - 1.2);
    })],
  };
}

// J
const cJ = ["#ee8a8a", "#505050", "#a8d4ec", "#ee7aee", "#3c965a", "#3a3ad0", "#8c8c34"];
const cJb = { fat: "#9a3ec8", vert: "#8a8a8a", epi: "#f06a5a" };
function makeJ(off: any) {
  const lefts = [leftXJ4, leftXJ6, leftXJ8, leftXJ10, leftXJ12, leftXJ14, leftXJ16];
  const rights = [rightXJ4, rightXJ6, rightXJ8, rightXJ10, rightXJ12, rightXJ14, rightXJ16];
  const ys = leftYJ.concat(midYJ, rightYJ);
  const ds = lefts.map((lx, i) => lineDS(lx.concat(midXJ, rights[i]), ys, cJ[i], { lw: i === 3 ? 2.2 : 1 }));
  return {
    type: "line", data: { datasets: [...ds, ...vLines(fatLinesJ, cJb.fat), ...vLines(vertLinesJ, cJb.vert), ...vLines(epiLinesJ, cJb.epi)] },
    options: baseOpts(off, { x: xLin(off, -0.1415, 0.1315, ticksPos, 2, "y (m)"), y: yLin(off, 36.22, 39.2, [36.5, 37, 37.5, 38, 38.5, 39], 1, "Temperature (degC)") }),
    plugins: [framePlugin, legendPlugin({ x: 629, y: 210, lh: 8.1, size: 7, sw: 15, gap: 2, items: [
      ...namesI.map((n, i) => ({ text: n, color: cJ[i], kind: "line", lw: i === 3 ? 2.5 : 1.2 })),
      { text: "Fat boundary", color: cJb.fat, kind: "line", dash: [3, 2] },
      { text: "Vertebrae boundary", color: cJb.vert, kind: "line", dash: [3, 2] },
      { text: "Epidural fat boundary", color: cJb.epi, kind: "line", dash: [3, 2] },
    ] }, off)],
  };
}

// C
const cC = { k40: "#000000", k30: "#1f1fd6", k20: "#e8342c", k10: "#e832e8" };
const tissueMarks = ["circle", "triDown", "triRight", "rect", "star"];
function makeTransient(off: any, times: number[], marks: number[], groups: any[], xr: number[], yr: number[], yTicks: number[], yDec: number, leg: any) {
  const ds: any[] = [];
  groups.forEach((g) => g.series.forEach((s: number[], j: number) => ds.push(lineDS(times, s, g.color, { lw: g.lw ?? 1, marks, marker: g.marks ? g.marks[j] : tissueMarks[j], r: 1.6 }))));
  return {
    type: "line", data: { datasets: ds },
    options: baseOpts(off, { x: xLin(off, xr[0], xr[1], ticksTime, 0, "Stimulation time (s)"), y: yLin(off, yr[0], yr[1], yTicks, yDec, "Temperature (degC)") }),
    plugins: [framePlugin, legendPlugin(leg, off)],
  };
}
const tissueLegend = (color: string) => [
  { text: "SC", color, kind: "marker", marker: "circle" }, { text: "ED", color, kind: "marker", marker: "triDown" },
  { text: "Dermis", color, kind: "marker", marker: "triRight" }, { text: "Fat", color, kind: "marker", marker: "rect" },
  { text: "Abd", color, kind: "marker", marker: "star" },
];
const makeC = (off: any) => makeTransient(off, timeC, markC, [
  { color: cC.k40, series: [c40SC, c40ED, c40De, c40Fa, c40Ab] },
  { color: cC.k30, series: [c30SC, c30ED, c30De, c30Fa, c30Ab] },
  { color: cC.k20, series: [c20SC, c20ED, c20De, c20Fa, c20Ab] },
  { color: cC.k10, series: [c10SC, c10ED, c10De, c10Fa, c10Ab] },
], [-15, 1170], [36.77, 41.19], [37, 38, 39, 40, 41], 0, { x: 182, y: 430, lh: 8.3, size: 7, sw: 12, gap: 3, items: [
  { text: "40 um", color: cC.k40, kind: "line" }, { text: "30 um", color: cC.k30, kind: "line" },
  { text: "20 um", color: cC.k20, kind: "line", lw: 1.6 }, { text: "10 um", color: cC.k10, kind: "line" },
  ...tissueLegend("#2020d0"),
] });

const cG = { g1: "#2a2ae0", g15: "#111111", g2: "#ee5252" };
const makeG = (off: any) => makeTransient(off, timeG, markG, [
  { color: cG.g1, series: [g1SC, g1ED, g1De, g1Fa, g1Ab] },
  { color: cG.g15, series: [g15SC, g15ED, g15De, g15Fa, g15Ab] },
  { color: cG.g2, series: [g2SC, g2ED, g2De, g2Fa, g2Ab] },
], [-17, 1125], [36.79, 40.07], [37, 37.5, 38, 38.5, 39, 39.5, 40], 1, { x: 431, y: 443.3, lh: 7.6, size: 7, sw: 14, gap: 2, items: [
  { text: "1 mm", color: cG.g1, kind: "line" }, { text: "1.5 mm", color: cG.g15, kind: "line" },
  { text: "2 mm", color: cG.g2, kind: "line", lw: 1.8 }, ...tissueLegend("#2020d0"),
] });

const cK = { k4: "#111111", k8: "#e23a3a", k12: "#2c2ce0", k16: "#ee3aee" };
const makeK = (off: any) => makeTransient(off, timeK, markK, [
  { color: cK.k4, series: [k4SC, k4Fa, k4Ab], marks: ["rect", "rect", "triDown"] },
  { color: cK.k8, series: [k8SC, k8Fa, k8Ab], marks: ["rect", "rect", "triDown"] },
  { color: cK.k12, series: [k12SC, k12Fa, k12Ab], marks: ["rect", "rect", "triDown"] },
  { color: cK.k16, series: [k16SC, k16Fa, k16Ab], marks: ["rect", "rect", "triDown"] },
], [-38, 1108], [36.75, 39.27], [37, 37.5, 38, 38.5, 39], 1, { x: 678, y: 452.7, lh: 7.4, size: 6.5, sw: 11, gap: 2, items: [
  { text: "4 mm", color: cK.k4, kind: "line" }, { text: "8 mm", color: cK.k8, kind: "line" },
  { text: "12 mm", color: cK.k12, kind: "line" }, { text: "16 mm", color: cK.k16, kind: "line" },
  { text: "SC", color: "#111", kind: "marker", marker: "rect", r: 1.3 }, { text: "Fat", color: "#111", kind: "marker", marker: "rect", r: 1.3 },
  { text: "Abd", color: "#111", kind: "marker", marker: "triDown" },
] });

// D
const sD = [
  { name: "SC: 40 um, Muscle", data: d40M, color: "#e23ee2", marker: "rect" },
  { name: "SC: 40 um, Vertebrae", data: d40V, color: "#2828e6", marker: "rect" },
  { name: "SC: 30 um, Muscle", data: d30M, color: "#e22a2a", marker: "triDown" },
  { name: "SC: 30 um, Vertebrae", data: d30V, color: "#ee6446", marker: "rect" },
  { name: "SC: 20 um, Muscle", data: d20M, color: "#8cc8ee", marker: "star" },
  { name: "SC: 20 um, Vertebrae", data: d20V, color: "#e84a4a", marker: "tri" },
  { name: "SC: 10 um, Muscle", data: d10M, color: "#8a2aaa", marker: "tri" },
  { name: "SC: 10 um, Vertebrae", data: d10V, color: "#f2a2c6", marker: "diamond" },
  { name: "Epidural fat", data: dEpi, color: "#8a2242", marker: "rect" },
  { name: "CSF", data: dCSF, color: "#962a96", marker: "circle" },
  { name: "GM/WM", data: dGMWM, color: "#8c8c2a", marker: "tri" },
];
function makeD(off: any) {
  const ds = sD.map((s) => lineDS(timeD, s.data, s.color, { marks: timeD, marker: s.marker, r: 1.6 }));
  const it = (s: any) => ({ text: s.name, color: s.color, kind: "line", marker: s.marker });
  return {
    type: "line", data: { datasets: ds },
    options: baseOpts(off, { x: xLin(off, -15, 915, ticksTime8, 0, "Stimulation time (s)"), y: yLin(off, 36.987, 37.187, [37.0, 37.05, 37.1, 37.15], 2, "Temperature (degC)") }),
    plugins: [framePlugin,
      legendPlugin({ x: 37, y: 557, lh: 9.4, size: 7.5, sw: 15, gap: 3, items: sD.slice(0, 4).map(it) }, off),
      legendPlugin({ x: 128, y: 653.3, lh: 9.4, size: 7.5, sw: 14, gap: 4, items: [
        it(sD[4]), it(sD[5]), it(sD[6]), it(sD[7]), it(sD[8]), it(sD[10]), { ...it(sD[9]), x: 187, y: 691 },
      ] }, off)],
  };
}

// H
const sH = [
  { name: "Dermis: 1 mm, Muscle", t: timeH, data: h1M, color: "#111111", marker: "circle" },
  { name: "Dermis: 1 mm, Vertebrae", t: timeH, data: h1V, color: "#e2302a", marker: "triDown" },
  { name: "Dermis: 1.5 mm, Muscle", t: timeH, data: h15M, color: "#e43ee4", marker: "rect" },
  { name: "Dermis: 1.5 mm, Vertebrae", t: timeH, data: h15V, color: "#2828e6", marker: "circle" },
  { name: "Dermis: 2 mm, Muscle", t: timeH, data: h2M, color: "#f07264", marker: "tri" },
  { name: "Dermis: 2 mm, Vertebrae", t: timeH, data: h2V, color: "#92c6ee", marker: "star" },
  { name: "Epidural fat", t: timeH2, data: hEpi, color: "#7a2a9c", marker: "tri" },
  { name: "CSF", t: timeH2, data: hCSF, color: "#8a8a2a", marker: "tri" },
  { name: "GM/WM", t: timeH2, data: hGMWM, color: "#f28a8a", marker: "star" },
];
function makeH(off: any) {
  const ds = sH.map((s) => lineDS(s.t, s.data, s.color, { marks: s.t, marker: s.marker, r: 1.6 }));
  return {
    type: "line", data: { datasets: ds },
    options: baseOpts(off, { x: xLin(off, -10, 915, ticksTime8, 0, "Stimulation time (s)"), y: yLin(off, 36.984, 37.293, [37.0, 37.05, 37.1, 37.15, 37.2, 37.25], 2, "Temperature (degC)") }),
    plugins: [framePlugin, legendPlugin({ x: 278, y: 552.3, lh: 9.55, size: 7.5, sw: 17, gap: 3, items: sH.map((s) => ({ text: s.name, color: s.color, kind: "line", marker: s.marker })) }, off)],
  };
}

// L
const sL = [
  { name: "4 mm", data: l4, color: "#111111", marker: "circle" },
  { name: "6 mm", data: l6, color: "#8c8c8c", marker: "rect" },
  { name: "8 mm", data: l8, color: "#7a1a7a", marker: "rect" },
  { name: "10 mm", data: l10, color: "#2a2ae6", marker: "circle" },
  { name: "12 mm", data: l12, color: "#e632e6", marker: "rect" },
  { name: "14 mm", data: l14, color: "#3a8a4a", marker: "rect" },
  { name: "16 mm", data: l16, color: "#8a2a9a", marker: "rect" },
];
const sL2 = [
  { name: "Epidural fat", data: lEpi, color: "#e62a2a", marker: "cross" },
  { name: "CSF", data: lCSF, color: "#f28a8a", marker: "tri" },
  { name: "GM/WM", data: lGMWM, color: "#92c2ea", marker: "star" },
];
function makeL(off: any) {
  const ds = [
    ...sL.map((s) => lineDS(timeL, s.data, s.color, { marks: timeL, marker: s.marker, r: 1.4 })),
    ...sL2.map((s) => lineDS(timeL2, s.data, s.color, { marks: timeL2, marker: s.marker, r: 1.6 })),
  ];
  return {
    type: "line", data: { datasets: ds },
    options: baseOpts(off, { x: xLin(off, -33, 955, ticksTime8, 0, "Stimulation time (s)"), y: yLin(off, 36.977, 37.35, [37.0, 37.05, 37.1, 37.15, 37.2, 37.25, 37.3, 37.35], 2, "Temperature (degC)") }),
    plugins: [framePlugin,
      legendPlugin({ x: 526, y: 556.7, lh: 8.2, size: 7, sw: 18, gap: 4, items: sL.map((s) => ({ text: s.name, color: s.color, kind: "line" })) }, off),
      legendPlugin({ x: 651, y: 667.7, lh: 9.2, size: 7, sw: 10, gap: 3, items: [
        { text: "Muscle", color: "#2a2ae6", kind: "marker", marker: "circle" },
        { text: "Vertebrae", color: "#2a2ae6", kind: "marker", marker: "rect" },
        ...sL2.map((s) => ({ text: s.name, color: s.color, kind: "line", marker: s.marker })),
      ] }, off)],
  };
}

/* ================= APP ================= */
const titleStyle: any = { position: "absolute", width: 240, textAlign: "center", fontFamily: SERIF, fontWeight: "bold", fontSize: 14, lineHeight: "16px", color: "#000" };
const letterStyle: any = { position: "absolute", width: 40, textAlign: "center", fontFamily: SERIF, fontWeight: "bold", fontSize: 13, lineHeight: "14px", color: "#000" };

const letters = [
  ["A", 115, 183], ["E", 358, 183], ["I", 601, 183],
  ["B", 115, 358], ["F", 357, 358], ["J", 600, 358],
  ["C", 115, 535], ["G", 357, 535], ["K", 600, 535],
  ["D", 115, 740], ["H", 357, 740], ["L", 600, 740],
];

export default function App() {
  return (
    <div style={{ position: "absolute", left: 0, top: 0, width: 716, height: 746, background: "#fff", overflow: "hidden" }}>
      <div style={{ ...titleStyle, left: 115 - 120, top: -2 }}>SG/ED thickness</div>
      <div style={{ ...titleStyle, left: 358 - 120, top: -2 }}>Dermis thickness</div>
      <div style={{ ...titleStyle, left: 601 - 120, top: -2 }}>Fat thickness</div>
      {letters.map((l: any) => (
        <div key={l[0]} style={{ ...letterStyle, left: l[1] - 20, top: l[2] - 7 }}>{l[0]}</div>
      ))}
      <Panel frame={[28, 17, 224, 152]} yw={28} xh={24} make={makeA} />
      <Panel frame={[270, 17, 468, 152]} yw={32} xh={24} make={makeE} />
      <Panel frame={[511, 17, 712, 153]} yw={35} xh={24} rp={3} make={makeI} />
      <Panel frame={[23, 194, 227, 333]} yw={23} xh={21} make={makeB} />
      <Panel frame={[55, 199, 160, 289]} yw={12} xh={10} tp={5} rp={8} make={makeInsetB} bg="#fff" />
      <Panel frame={[270, 193, 465, 331]} yw={32} xh={22} make={makeF} />
      <Panel frame={[303, 196, 400, 285]} yw={13} xh={7} tp={3} rp={8} make={makeInsetF} bg="#fff" />
      <Panel frame={[512, 190, 712, 334]} yw={36} xh={20} make={makeJ} />
      <Panel frame={[20, 370, 230, 507]} yw={20} xh={21} make={makeC} />
      <Panel frame={[267, 371, 468, 507]} yw={29} xh={21} rp={10} make={makeG} />
      <Panel frame={[511, 369, 713, 509]} yw={35} xh={21} make={makeK} />
      <Panel frame={[33, 551, 223, 713]} yw={33} xh={20} make={makeD} />
      <Panel frame={[275, 546, 468, 716]} yw={37} xh={17} make={makeH} />
      <Panel frame={[520, 550, 700, 712]} yw={44} xh={20} make={makeL} />
    </div>
  );
}
